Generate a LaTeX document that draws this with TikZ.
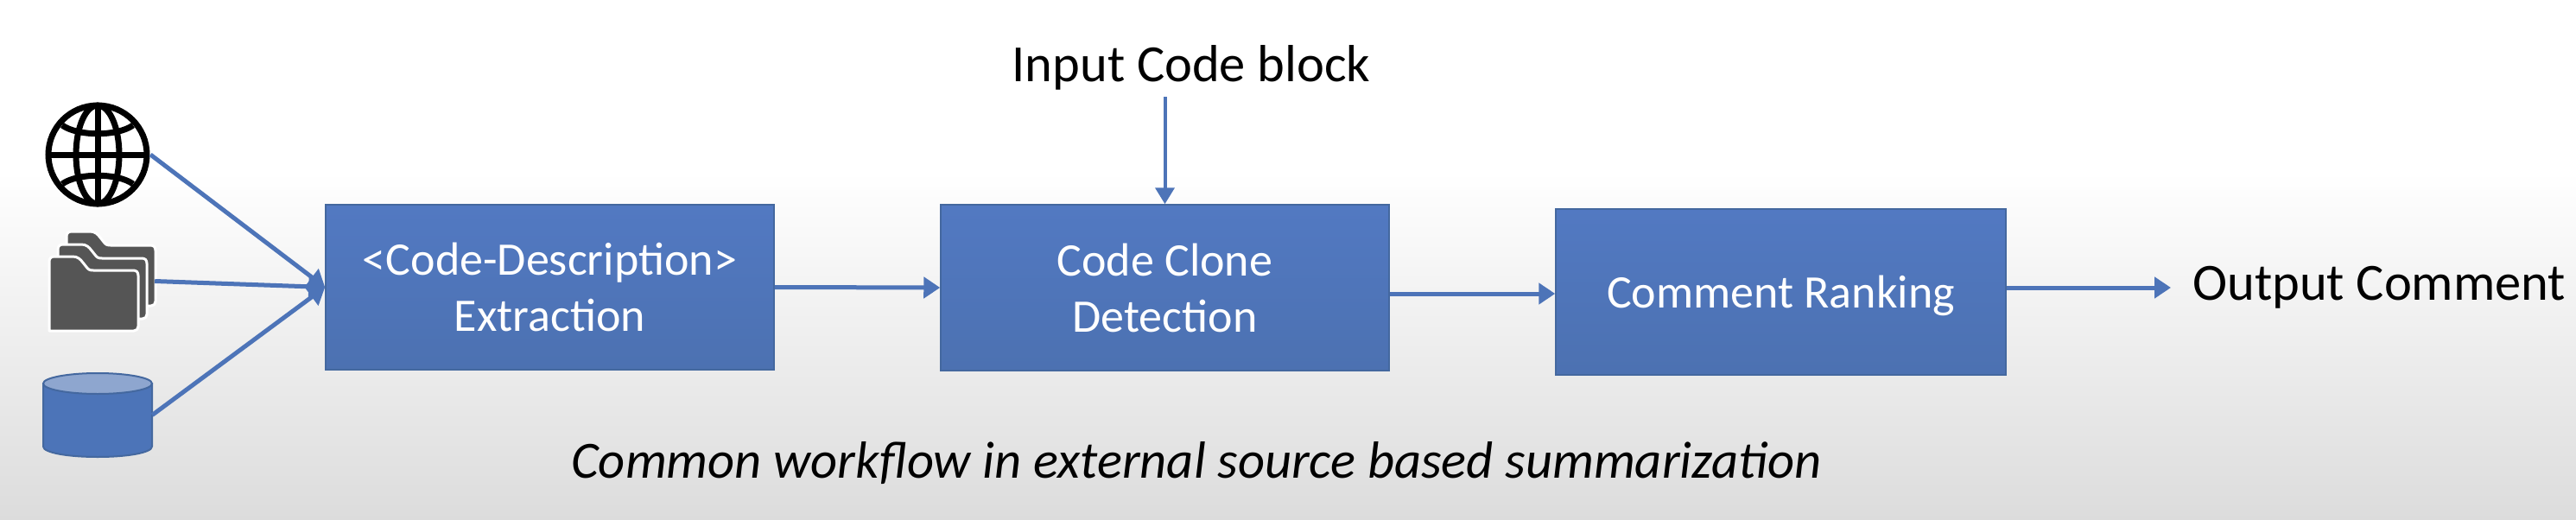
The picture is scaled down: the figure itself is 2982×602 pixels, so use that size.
\documentclass[tikz,border=0pt]{standalone}
\usepackage{fontspec}
\setmainfont{Carlito}
\usetikzlibrary{arrows.meta}
\definecolor{boxtop}{HTML}{5279C2}
\definecolor{boxbot}{HTML}{4C71B1}
\definecolor{boxedge}{HTML}{44689F}
\definecolor{flow}{HTML}{4D74B8}
\definecolor{folderc}{HTML}{555555}
\definecolor{dbtop}{HTML}{8EA6CF}
\definecolor{dbfill}{HTML}{4C74B8}
\definecolor{bgbot}{HTML}{DCDCDC}
\tikzset{
  procbox/.style={rectangle,draw=boxedge,line width=1.5pt,top color=boxtop,bottom color=boxbot,
    text=white,align=center,inner sep=0pt,font=\fontsize{54}{65}\selectfont},
  flowline/.style={draw=flow,line width=5pt,-{Triangle[length=19pt,width=24pt,fill=flow]}},
  inline/.style={draw=flow,line width=4pt,-{Triangle[length=19pt,width=22pt,fill=flow]}},
  plainlabel/.style={inner sep=0pt,text=black,font=\fontsize{60.5}{70}\selectfont},
  slot/.style={inner sep=0pt,rectangle},
  globeline/.style={draw=black,line width=7pt},
  folderpath/.style={fill=folderc,draw=white,line width=3pt,line join=round}
}
\begin{document}
\begin{tikzpicture}[x=1pt,y=-1pt]
\useasboundingbox (0,0) rectangle (2982,602);
% background
\fill[white] (0,0) rectangle (2982,200);
\shade[top color=white,bottom color=bgbot] (0,199) rectangle (2982,602);
% globe
\node[slot,circle,minimum size=122pt] (globe) at (113,179) {};
\begin{scope}
\draw[globeline] (113,179) circle (57);
\draw[globeline] (113,179) ellipse (25 and 57);
\draw[globeline] (113,122) -- (113,236);
\draw[globeline] (56,179) -- (170,179);
\draw[globeline] (72,145) .. controls (90,158) and (136,158) .. (154,145);
\draw[globeline] (72,213) .. controls (90,200) and (136,200) .. (154,213);
\end{scope}
% folders
\node[slot,minimum width=122pt,minimum height=115pt] (folder) at (118,325.5) {};
\foreach \dx/\dy in {20/-29,10/-14,0/0}{
  \begin{scope}[shift={(\dx,\dy)}]
  \path[folderpath] (57,383) -- (57,303) .. controls (57,299) and (59,297) .. (63,297)
     -- (84,297) .. controls (90,297) and (93,300) .. (96,304)
     -- (100,309) .. controls (102,312) and (104,313) .. (108,313)
     -- (154,313) .. controls (158,313) and (160,315) .. (160,319)
     -- (160,378) .. controls (160,381) and (158,383) .. (155,383) -- cycle;
  \end{scope}
}
% database
\node[slot,minimum width=126pt,minimum height=97pt] (db) at (113,480.5) {};
\path[fill=dbfill,draw=boxedge,line width=2pt] (50,444) -- (50,517)
  .. controls (50,524) and (78,529) .. (113,529) .. controls (148,529) and (176,524) .. (176,517)
  -- (176,444) -- cycle;
\path[fill=dbtop,draw=boxedge,line width=2pt] (113,444) ellipse (63 and 12);
% process boxes
\node[procbox,minimum width=519pt,minimum height=191pt] (extract) at (636.5,332.5) {<Code-Description>\\Extraction};
\node[procbox,minimum width=519pt,minimum height=192pt] (clone) at (1348.5,333) {Code Clone\\Detection};
\node[procbox,minimum width=521pt,minimum height=192pt] (rank) at (2061.5,338) {\raisebox{-4pt}[\height][\depth]{Comment Ranking}};
% labels
\node[plainlabel,anchor=center] (input) at (1379,78) {Input Code block};
\node[plainlabel,anchor=west] (output) at (2538,333) {Output Comment};
\node[inner sep=0pt,text=black,font=\fontsize{60.5}{70}\itshape\selectfont] (caption) at (1385,536) {Common workflow in external source based summarization};
% connectors
\coordinate (m23) at (1700,340);
\draw[flowline] (globe.east) -- (extract.west);
\draw[flowline] (folder.east) -- (extract.west);
\draw[flowline] (db.east) -- (extract.west);
\draw[flowline] (extract.east) -- (clone.west);
\draw[flowline] (clone.east |- m23) -- (rank.west |- m23);
\draw[flowline,shorten >=25pt] (rank.east |- output.west) -- (output.west);
\draw[inline] (input.south -| clone.north) ++(0,8) -- (clone.north);
\end{tikzpicture}
\end{document}
